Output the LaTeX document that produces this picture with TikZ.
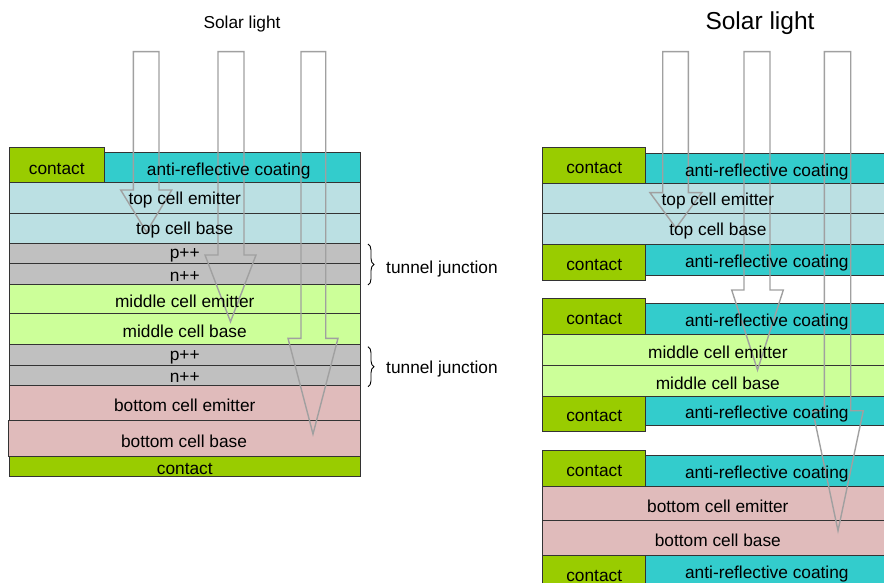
\documentclass[tikz,border=0pt]{standalone}
\usepackage{fontspec}
\setmainfont{Liberation Sans}
\usetikzlibrary{decorations.pathreplacing}
\definecolor{ccontact}{HTML}{99CC00}
\definecolor{carc}{HTML}{33CCCC}
\definecolor{ctop}{HTML}{BBE0E3}
\definecolor{cgray}{HTML}{C0C0C0}
\definecolor{cmid}{HTML}{CCFF99}
\definecolor{cbot}{HTML}{E0BBBB}
\definecolor{boxline}{HTML}{333333}
\definecolor{raygray}{HTML}{A0A0A0}
\tikzset{
  layer/.style={draw=boxline, line width=1pt, inner sep=0pt, outer sep=0pt},
  txt/.style={font=\fontsize{17.3}{20}\selectfont, inner sep=0pt, text=black, yshift=-2.5pt},
  bigtxt/.style={font=\fontsize{24.5}{28}\selectfont, inner sep=0pt, yshift=-2pt},
  ray/.style={draw=raygray, line width=1.4pt, line join=miter},
  tjbrace/.style={draw=black, line width=0.9pt, decorate, decoration={brace, amplitude=6pt}}
}
\begin{document}
\begin{tikzpicture}[x=1pt,y=-1pt]
\useasboundingbox (0,0) rectangle (884,583);
\clip (0,0) rectangle (884,583);
% ---------- LEFT STACK ----------
\node[layer, fill=carc, minimum width=256, minimum height=30] (larc) at (232,168) {};
\node[layer, fill=ccontact, minimum width=94.5, minimum height=35] (lcon) at (56.75,165.5) {};
\node[layer, fill=ctop, minimum width=350.5, minimum height=30] (ltce) at (184.75,198) {};
\node[layer, fill=ctop, minimum width=350.5, minimum height=30] (ltcb) at (184.75,228) {};
\node[layer, fill=cgray, minimum width=350.5, minimum height=20.3] (lp1) at (184.75,253.15) {};
\node[layer, fill=cgray, minimum width=350.5, minimum height=20.7] (ln1) at (184.75,273.65) {};
\node[layer, fill=cmid, minimum width=350.5, minimum height=29.3] (lmce) at (184.75,298.65) {};
\node[layer, fill=cmid, minimum width=350.5, minimum height=30.7] (lmcb) at (184.75,328.65) {};
\node[layer, fill=cgray, minimum width=350.5, minimum height=21] (lp2) at (184.75,354.5) {};
\node[layer, fill=cgray, minimum width=350.5, minimum height=20] (ln2) at (184.75,375) {};
\node[layer, fill=cbot, minimum width=350.5, minimum height=35.7] (lbce) at (184.75,402.85) {};
\node[layer, fill=cbot, minimum width=352, minimum height=36] (lbcb) at (184,438.7) {};
\node[layer, fill=ccontact, minimum width=350.5, minimum height=19.3] (lbcon) at (184.75,466.35) {};
% ---------- RIGHT STACK ----------
\node[layer, fill=carc, minimum width=247.3, minimum height=30] (rarc1) at (769.35,168.3) {};
\node[layer, fill=ccontact, minimum width=103, minimum height=35.6] (rcon1) at (594.2,165.5) {};
\node[layer, fill=ctop, minimum width=350.3, minimum height=30] (rtce) at (717.85,198.3) {};
\node[layer, fill=ctop, minimum width=350.3, minimum height=30.7] (rtcb) at (717.85,228.65) {};
\node[layer, fill=carc, minimum width=247.3, minimum height=31] (rarc2) at (769.35,259.5) {};
\node[layer, fill=ccontact, minimum width=103, minimum height=36] (rcon2) at (594.2,262) {};
\node[layer, fill=carc, minimum width=247.3, minimum height=30.7] (rarc3) at (769.35,318.65) {};
\node[layer, fill=ccontact, minimum width=103, minimum height=35.7] (rcon3) at (594.2,316.15) {};
\node[layer, fill=cmid, minimum width=350.3, minimum height=31] (rmce) at (717.85,349.5) {};
\node[layer, fill=cmid, minimum width=350.3, minimum height=31] (rmcb) at (717.85,380.5) {};
\node[layer, fill=carc, minimum width=247.3, minimum height=29] (rarc4) at (769.35,410.5) {};
\node[layer, fill=ccontact, minimum width=103, minimum height=35.7] (rcon4) at (594.2,413.85) {};
\node[layer, fill=carc, minimum width=247.3, minimum height=31] (rarc5) at (769.35,470.5) {};
\node[layer, fill=ccontact, minimum width=103, minimum height=36] (rcon5) at (594.2,468) {};
\node[layer, fill=cbot, minimum width=350.3, minimum height=34.7] (rbce) at (717.85,503.35) {};
\node[layer, fill=cbot, minimum width=350.3, minimum height=35] (rbcb) at (717.85,538.2) {};
\node[layer, fill=carc, minimum width=247.3, minimum height=29.3] (rarc6) at (769.35,570.35) {};
\node[layer, fill=ccontact, minimum width=103, minimum height=35.7] (rcon6) at (594.2,573.55) {};
% ---------- LIGHT RAYS ----------
\draw[ray] (133.3,51.7) -- (133.3,190) -- (120.7,190) -- (146.5,232) -- (171.7,190) -- (159,190) -- (159,51.7) -- cycle;
\draw[ray] (218,51.7) -- (218,255) -- (205,255) -- (230.5,321.7) -- (256,255) -- (244,255) -- (244,51.7) -- cycle;
\draw[ray] (301,51.7) -- (301,338.3) -- (288,338.3) -- (313,434) -- (338,338.3) -- (325.7,338.3) -- (325.7,51.7) -- cycle;
\draw[ray] (662.7,51.7) -- (662.7,192.7) -- (650,192.7) -- (676,228) -- (701.7,192.7) -- (688.3,192.7) -- (688.3,51.7) -- cycle;
\draw[ray] (744,51.7) -- (744,290) -- (731.7,290) -- (757.5,370) -- (783.3,290) -- (770,290) -- (770,51.7) -- cycle;
\draw[ray] (824.3,51.7) -- (824.3,410.7) -- (812.7,410.7) -- (838,530.7) -- (863.3,410.7) -- (850.7,410.7) -- (850.7,51.7) -- cycle;
% ---------- LABELS ----------
\node[txt] (solarL) at (242,21.5) {Solar light};
\node[bigtxt] (solarR) at (760,21) {Solar light};
\node[txt] (larct) at (228.7,169) {anti-reflective coating};
\node[txt] (lcont) at (56.75,166) {contact};
\node[txt] (ltcet) at (ltce) {top cell emitter};
\node[txt] (ltcbt) at (ltcb) {top cell base};
\node[txt] (lp1t) at (lp1) {p++};
\node[txt] (ln1t) at (ln1) {n++};
\node[txt] (lmcet) at (lmce) {middle cell emitter};
\node[txt] (lmcbt) at (lmcb) {middle cell base};
\node[txt] (lp2t) at (lp2) {p++};
\node[txt] (ln2t) at (ln2) {n++};
\node[txt] (lbcet) at (lbce) {bottom cell emitter};
\node[txt] (lbcbt) at (lbcb) {bottom cell base};
\node[txt] (lbcont) at (lbcon) {contact};
\foreach \k in {1,...,6} {
  \node[txt] (rarct\k) at ([xshift=-2.5pt,yshift=-1pt]rarc\k.center) {anti-reflective coating};
  \node[txt] (rcont\k) at (rcon\k) {contact};
}
\node[txt] (rtcet) at (rtce) {top cell emitter};
\node[txt] (rtcbt) at (rtcb) {top cell base};
\node[txt] (rmcet) at (rmce) {middle cell emitter};
\node[txt] (rmcbt) at (rmcb) {middle cell base};
\node[txt] (rbcet) at (rbce) {bottom cell emitter};
\node[txt] (rbcbt) at (rbcb) {bottom cell base};
% ---------- TUNNEL JUNCTIONS ----------
\coordinate (b1a) at (368,244);
\coordinate (b1b) at (368,285);
\coordinate (b2a) at (368,346.7);
\coordinate (b2b) at (368,386.7);
\draw[tjbrace] (b1a) -- (b1b);
\draw[tjbrace] (b2a) -- (b2b);
\node[txt, anchor=west] (tj1) at (386,267) {tunnel junction};
\node[txt, anchor=west] (tj2) at (386,367) {tunnel junction};
\end{tikzpicture}
\end{document}
